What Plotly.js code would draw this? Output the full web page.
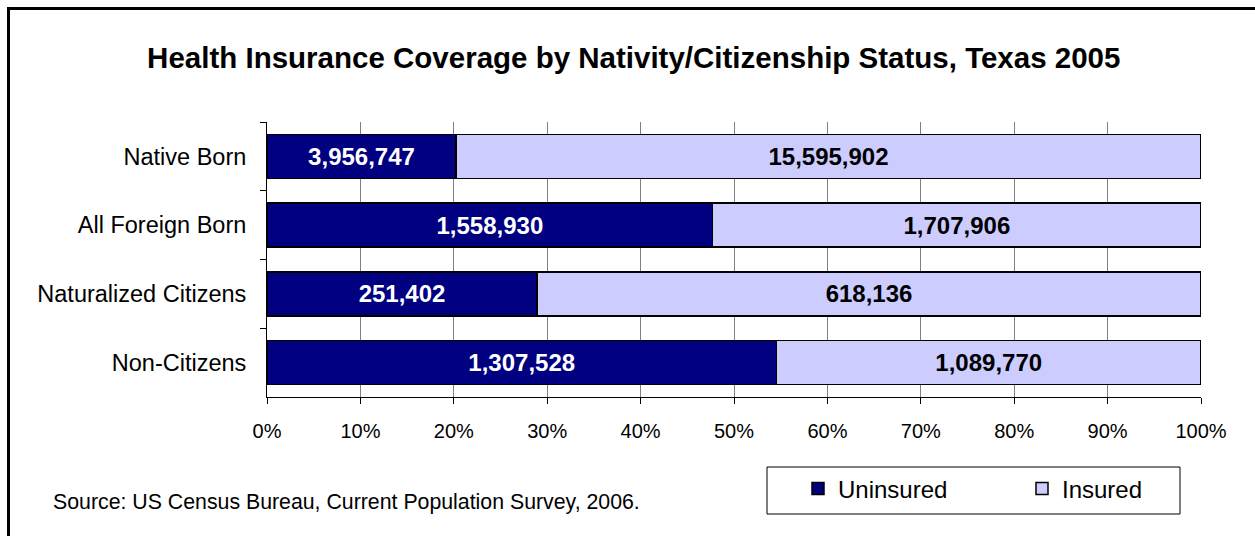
<!DOCTYPE html>
<html>
<head>
<meta charset="utf-8">
<script src="https://cdn.plot.ly/plotly-3.0.1.min.js"></script>
<style>html,body{margin:0;padding:0;background:#fff;overflow:hidden;}#chart{width:1255px;height:536px;}</style>
</head>
<body>
<div id="chart"></div>
<script>
const categories = ["Native Born", "All Foreign Born", "Naturalized Citizens", "Non-Citizens"];
const uninsured = [3956747, 1558930, 251402, 1307528];
const insured = [15595902, 1707906, 618136, 1089770];
const seriesNames = ["Uninsured", "Insured"];
const xTickVals = [0,10,20,30,40,50,60,70,80,90,100];
const xTickText = ["0%","10%","20%","30%","40%","50%","60%","70%","80%","90%","100%"];

const W = 1255, H = 536;
const M = {l: 267, r: 54, t: 122, b: 139, autoexpand: false};
const PW = W - M.l - M.r, PH = H - M.t - M.b;
const px = x => (x - M.l) / PW;
const py = y => (H - M.b - y) / PH;

const fmt = v => v.toLocaleString('en-US');
const FONT = "Liberation Sans, Arial, sans-serif";

const traces = [
  {
    type: 'bar', orientation: 'h', name: seriesNames[0],
    y: categories, x: uninsured,
    text: uninsured.map(fmt), textposition: 'inside', insidetextanchor: 'middle',
    textfont: {family: FONT, size: 24, color: '#ffffff', weight: 'bold'},
    marker: {color: '#000080', line: {color: '#000000', width: 1.5}},
    hoverinfo: 'none'
  },
  {
    type: 'bar', orientation: 'h', name: seriesNames[1],
    y: categories, x: insured,
    text: insured.map(fmt), textposition: 'inside', insidetextanchor: 'middle',
    textfont: {family: FONT, size: 24, color: '#000000', weight: 'bold'},
    marker: {color: '#ccccff', line: {color: '#000000', width: 1.5}},
    hoverinfo: 'none'
  }
];

const layout = {
  width: W, height: H,
  margin: M,
  paper_bgcolor: '#ffffff', plot_bgcolor: '#ffffff',
  barmode: 'stack', barnorm: 'percent', bargap: 0.36,
  font: {family: FONT, color: '#000000'},
  title: {
    text: '<b>Health Insurance Coverage by Nativity/Citizenship Status, Texas 2005</b>',
    font: {family: FONT, size: 29.5, color: '#000000'},
    xref: 'container', yref: 'container', x: 0.505, xanchor: 'center',
    y: 1 - 58 / H, yanchor: 'middle'
  },
  xaxis: {
    range: [0, 100], tickvals: xTickVals, ticktext: xTickText,
    showgrid: true, gridcolor: '#808080', gridwidth: 1,
    zeroline: false, showline: true, linecolor: '#000000', linewidth: 1,
    ticks: 'outside', ticklen: 6, tickcolor: '#000000',
    tickfont: {family: FONT, size: 20, color: '#000000'},
    ticklabelstandoff: 10, fixedrange: true
  },
  yaxis: {
    autorange: 'reversed', type: 'category',
    showline: true, linecolor: '#000000', linewidth: 1,
    ticks: 'outside', ticklen: 6, tickcolor: '#000000', tickson: 'boundaries',
    showgrid: false, zeroline: false,
    tickfont: {family: FONT, size: 23.5, color: '#000000'},
    ticklabelstandoff: 15, fixedrange: true
  },
  showlegend: true,
  legend: {
    orientation: 'h', x: px(798), xanchor: 'left', y: py(489), yanchor: 'middle',
    font: {family: FONT, size: 24, color: '#000000'},
    bgcolor: 'rgba(0,0,0,0)', borderwidth: 0,
    entrywidth: 179, entrywidthmode: 'pixels', traceorder: 'normal'
  },
  shapes: [
    {type: 'rect', xref: 'paper', yref: 'paper', x0: px(767), x1: px(1180), y0: py(467), y1: py(514),
     line: {color: '#000000', width: 1}, fillcolor: 'rgba(0,0,0,0)'},
    {type: 'path', xref: 'paper', yref: 'paper',
     path: 'M ' + px(8.5) + ',' + py(545) + ' L ' + px(8.5) + ',' + py(8.5) + ' L ' + px(1265) + ',' + py(8.5),
     line: {color: '#000000', width: 3}}
  ],
  annotations: [
    {text: 'Source: US Census Bureau, Current Population Survey, 2006.', showarrow: false,
     xref: 'paper', yref: 'paper', x: px(51), xanchor: 'left', y: py(502), yanchor: 'middle',
     font: {family: FONT, size: 21.3, color: '#000000'}}
  ]
};

Plotly.newPlot('chart', traces, layout, {displayModeBar: false, staticPlot: true});
</script>
</body>
</html>
